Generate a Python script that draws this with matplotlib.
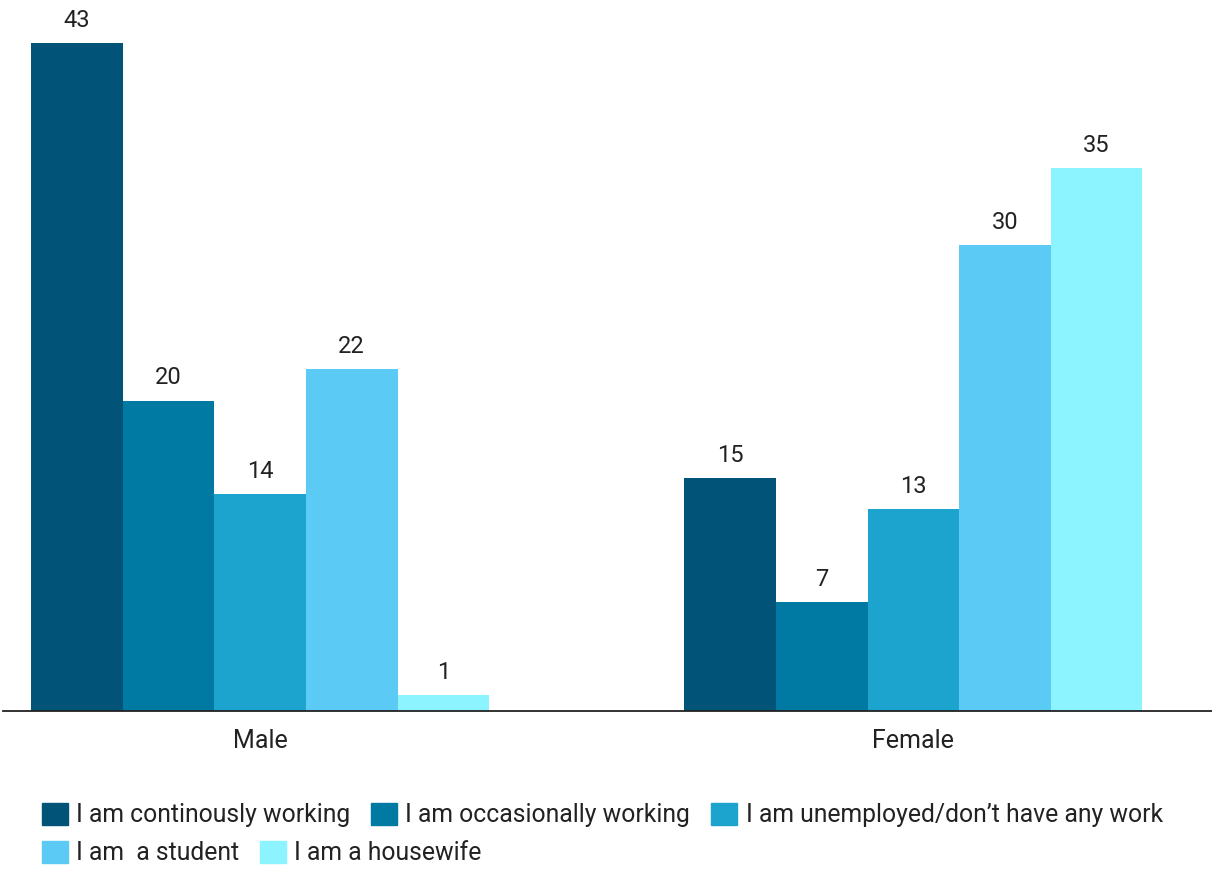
import numpy as np
import matplotlib.pyplot as plt
from matplotlib.patches import Patch

plt.rcParams['font.family'] = ['Roboto', 'DejaVu Sans']

# dados
groups = ['Male', 'Female']
series = ['I am continously working', 'I am occasionally working',
          'I am unemployed/don\u2019t have any work', 'I am  a student', 'I am a housewife']
male_vals = [43, 20, 14, 22, 1]
female_vals = [15, 7, 13, 30, 35]
colors = ['#015478', '#0079A3', '#1CA3CE', '#5BCBF5', '#8CF4FE']

fig = plt.figure(figsize=(12.12, 8.71), dpi=100)
ax = fig.add_axes([3 / 1212, 160 / 871, 1 - 3 / 1212, 711 / 871])

centers = np.array([0.0, 7.13])
vals = np.array([male_vals, female_vals])
for i, (name, color) in enumerate(zip(series, colors)):
    bars = ax.bar(centers + (i - 2), vals[:, i], width=1.0, color=color, label=name)
    ax.bar_label(bars, padding=8, fontsize=17, color='#222222')

ax.set_xlim(-2.806, 10.39)
ax.set_ylim(0, 45.8)
ax.set_xticks(centers)
ax.set_xticklabels(groups, fontsize=18, color='#222222')
ax.tick_params(axis='x', length=0, pad=13)
ax.set_yticks([])
for s in ['top', 'right', 'left']:
    ax.spines[s].set_visible(False)
ax.spines['bottom'].set_color('#222222')
ax.spines['bottom'].set_linewidth(1.3)

handles = [Patch(color=c) for c in colors]
kw = dict(frameon=False, fontsize=17.8, handlelength=1.05, handleheight=1.05,
          handletextpad=0.33, columnspacing=0.85, borderpad=0, borderaxespad=0,
          labelcolor='#222222')
fig.legend(handles[:3], series[:3], ncol=3, loc='center left',
           bbox_to_anchor=(42 / 1212, 1 - 815 / 871), **kw)
fig.legend(handles[3:], series[3:], ncol=2, loc='center left',
           bbox_to_anchor=(42 / 1212, 1 - 853 / 871), **kw)

plt.savefig('out.png', dpi=100)
plt.close('all')
